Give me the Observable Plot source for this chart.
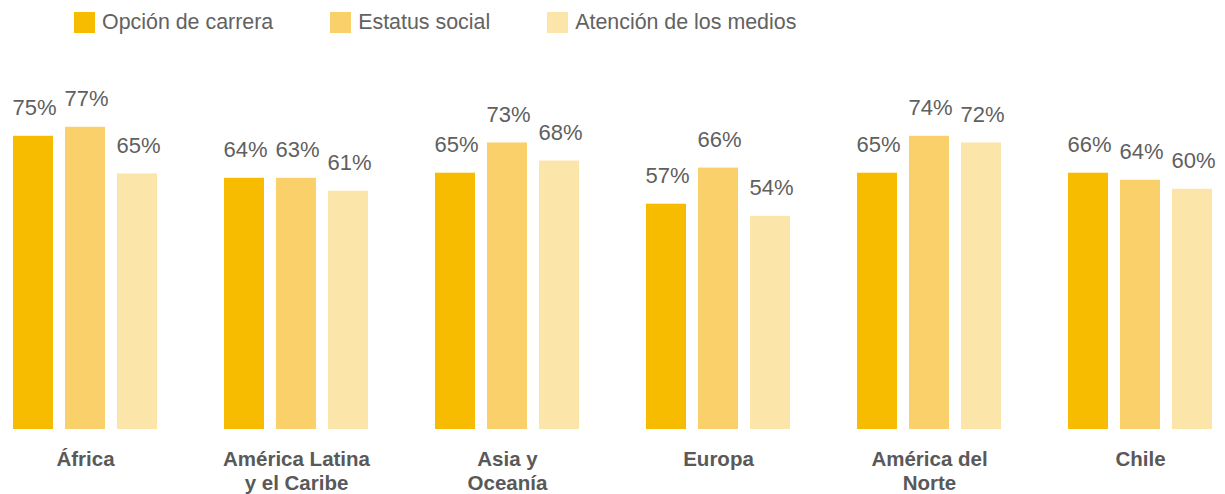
<!DOCTYPE html>
<html>
<head>
<meta charset="utf-8">
<script src="https://cdn.jsdelivr.net/npm/d3@7"></script>
<script src="https://cdn.jsdelivr.net/npm/@observablehq/plot@0.6"></script>
<style>
  html, body { margin: 0; padding: 0; background: #fff; }
  body { width: 1225px; height: 494px; overflow: hidden; font-family: "Liberation Sans", Arial, Helvetica, sans-serif; }
  #legend { height: 44px; display: flex; align-items: center; padding-left: 74px; box-sizing: border-box; }
  .item { display: flex; align-items: center; margin-right: 57px; font-size: 21.4px; color: #626262; }
  .sw { width: 21px; height: 21px; margin-right: 7px; }
  #chart svg { display: block; }
</style>
</head>
<body>
<div id="legend"></div>
<div id="chart"></div>
<script>
const regions = ["África", "América Latina\ny el Caribe", "Asia y\nOceanía", "Europa", "América del\nNorte", "Chile"];
const series = ["Opción de carrera", "Estatus social", "Atención de los medios"];
const colors = ["#F7BC00", "#F9D06A", "#FCE5A8"];
// bar heights (%)
const opcion   = [74.7, 64.0, 65.3, 57.4, 65.3, 65.3];
const estatus  = [77.0, 64.0, 73.0, 66.6, 74.7, 63.5];
const atencion = [65.1, 60.7, 68.4, 54.3, 73.0, 61.2];
// printed labels (%)
const opcionLbl   = [75, 64, 65, 57, 65, 66];
const estatusLbl  = [77, 63, 73, 66, 74, 64];
const atencionLbl = [65, 61, 68, 54, 72, 60];

const rows = [];
regions.forEach((r, i) => {
  rows.push({region: r, series: series[0], value: opcion[i], label: opcionLbl[i]});
  rows.push({region: r, series: series[1], value: estatus[i], label: estatusLbl[i]});
  rows.push({region: r, series: series[2], value: atencion[i], label: atencionLbl[i]});
});

const legend = document.getElementById("legend");
series.forEach((s, i) => {
  const it = document.createElement("div");
  it.className = "item";
  const sw = document.createElement("div");
  sw.className = "sw";
  sw.style.background = colors[i];
  const t = document.createElement("span");
  t.textContent = s;
  it.appendChild(sw); it.appendChild(t);
  legend.appendChild(it);
});

const chart = Plot.plot({
  width: 1225,
  height: 450,
  marginLeft: 12,
  marginRight: 12,
  marginTop: 71,
  marginBottom: 65,
  style: {fontFamily: "'Liberation Sans', Arial, Helvetica, sans-serif", background: "#fff"},
  fx: {domain: regions, axis: null, paddingInner: 0.3185, paddingOuter: 0},
  x: {domain: series, axis: null, paddingInner: 0.2308, paddingOuter: 0},
  y: {domain: [0, 80], axis: null},
  color: {domain: series, range: colors},
  marks: [
    Plot.barY(rows, {fx: "region", x: "series", y: "value", fill: "series"}),
    Plot.text(rows, {fx: "region", x: "series", y: "value", text: d => d.label + "%", dy: -28, dx: 1, fontSize: 22, fill: "#606060"}),
    Plot.text(regions, {fx: d => d, text: d => d, frameAnchor: "bottom", lineAnchor: "top", dy: 20, fontSize: 20.5, fontWeight: "bold", fill: "#595959", lineHeight: 1.15})
  ]
});
document.getElementById("chart").appendChild(chart);
</script>
</body>
</html>
